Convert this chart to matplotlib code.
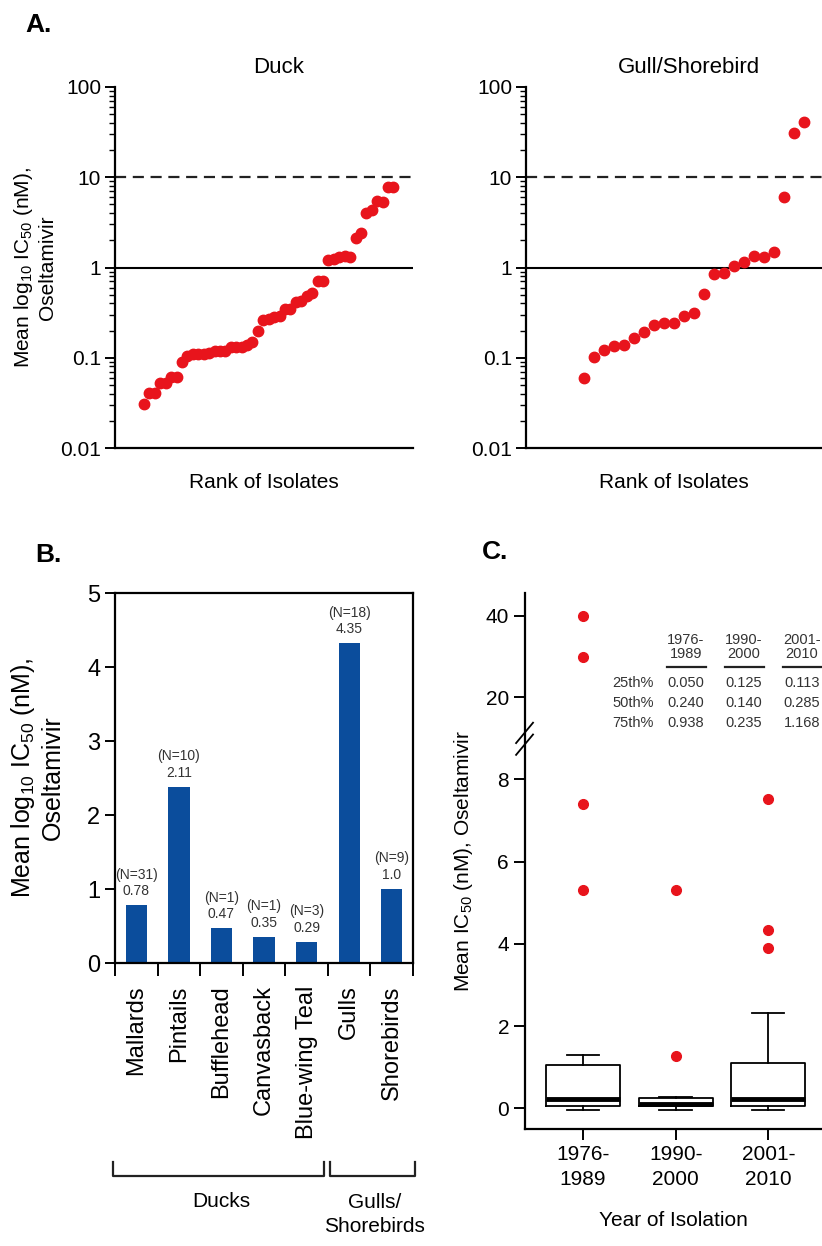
import matplotlib.pyplot as plt
import numpy as np

plt.rcParams['font.family'] = ['Liberation Sans', 'DejaVu Sans']
plt.rcParams['mathtext.fontset'] = 'custom'
plt.rcParams['mathtext.rm'] = 'Liberation Sans'
plt.rcParams['mathtext.it'] = 'Liberation Sans:italic'
plt.rcParams['mathtext.default'] = 'regular'

# ---- panel A: ranked isolates ----
duck_ic50 = [0.031, 0.041, 0.041, 0.053, 0.053, 0.061, 0.061, 0.090, 0.104, 0.11,
             0.11, 0.11, 0.114, 0.12, 0.12, 0.12, 0.13, 0.13, 0.133, 0.14,
             0.15, 0.20, 0.26, 0.27, 0.28, 0.29, 0.35, 0.35, 0.42, 0.43,
             0.48, 0.52, 0.70, 0.70, 1.2, 1.25, 1.3, 1.33, 1.3, 2.1,
             2.4, 4.0, 4.3, 5.4, 5.3, 7.7, 7.7]
gull_ic50 = [0.06, 0.102, 0.122, 0.135, 0.14, 0.167, 0.195, 0.23, 0.24, 0.24,
             0.29, 0.31, 0.51, 0.84, 0.87, 1.03, 1.16, 1.34, 1.30, 1.48,
             6.1, 30.8, 40.5]

# ---- panel B: mean per species ----
species = ['Mallards', 'Pintails', 'Bufflehead', 'Canvasback', 'Blue-wing Teal',
           'Gulls', 'Shorebirds']
bar_heights = [0.78, 2.38, 0.47, 0.35, 0.29, 4.32, 1.0]
n_isolates = [31, 10, 1, 1, 3, 18, 9]
bar_labels = ['0.78', '2.11', '0.47', '0.35', '0.29', '4.35', '1.0']

# ---- panel C: by period ----
periods = ['1976-\n1989', '1990-\n2000', '2001-\n2010']
box_whislo = [-0.04, -0.04, -0.04]
box_q1 = [0.05, 0.05, 0.05]
box_med = [0.24, 0.12, 0.24]
box_q3 = [1.06, 0.26, 1.11]
box_whishi = [1.30, 0.28, 2.33]
outliers = [[40, 30, 7.4, 5.3], [5.3, 1.27], [7.53, 4.33, 3.9]]
pct_labels = ['25th%', '50th%', '75th%']
pct_values = [['0.050', '0.125', '0.113'],
              ['0.240', '0.140', '0.285'],
              ['0.938', '0.235', '1.168']]

red = '#e8141c'
blue = '#0b4d9c'

W, H = 822, 1246
fig = plt.figure(figsize=(W / 100, H / 100), dpi=100)


def box(l, t, r, b):
    # pixel box -> figure fraction
    return [l / W, 1 - b / H, (r - l) / W, (b - t) / H]


def rank_panel(rect, vals, title, xlim, title_x):
    ax = fig.add_axes(rect)
    ranks = np.arange(1, len(vals) + 1)
    ax.plot(ranks, vals, 'o', color=red, ms=7.5, mec=red, zorder=3)
    ax.set_yscale('log')
    ax.set_ylim(0.01, 100)
    ax.set_xlim(*xlim)
    ax.axhline(1, color='black', lw=1.5)
    ax.axhline(10, color='#222222', lw=1.6, ls=(0, (5, 3)))
    ax.set_yticks([0.01, 0.1, 1, 10, 100])
    ax.set_yticklabels(['0.01', '0.1', '1', '10', '100'])
    ax.set_xticks([])
    for s in ['top', 'right']:
        ax.spines[s].set_visible(False)
    for s in ['left', 'bottom']:
        ax.spines[s].set_linewidth(1.6)
    ax.tick_params(axis='y', which='major', length=7, width=1.4, labelsize=15, pad=3)
    ax.tick_params(axis='y', which='minor', length=4, width=1.0)
    ax.set_xlabel('Rank of Isolates', fontsize=15, labelpad=18)
    ax.text(title_x, 1.025, title, transform=ax.transAxes, ha='center', va='bottom',
            fontsize=16)
    return ax


axd = rank_panel(box(115, 87, 413, 448), duck_ic50, 'Duck', (-4.35, 50.6), 0.55)
axd.set_ylabel('Mean log$_{10}$ IC$_{50}$ (nM),\nOseltamivir', fontsize=15,
               labelpad=2)
axg = rank_panel(box(526, 87, 822, 448), gull_ic50, 'Gull/Shorebird', (-4.8, 24.8), 0.55)

# ---- panel B ----
axb = fig.add_axes(box(115, 593, 413, 963))
x = np.arange(len(species))
axb.bar(x, bar_heights, width=0.5, color=blue)
for xi, h, n, lab in zip(x, bar_heights, n_isolates, bar_labels):
    axb.annotate(f'(N={n})\n{lab}', (xi, h), xytext=(0, 5), textcoords='offset points',
                 ha='center', va='bottom', fontsize=10, color='#333333',
                 linespacing=1.25)
axb.set_xlim(-0.5, 6.5)
axb.set_ylim(0, 5)
axb.set_yticks(range(6))
axb.set_xticks(x)
axb.set_xticklabels(species, rotation=90, fontsize=17)
axb.set_xticks(np.arange(-0.5, 7), minor=True)
axb.tick_params(axis='x', which='major', length=0, pad=16)
axb.tick_params(axis='x', which='minor', length=9, width=1.4)
axb.tick_params(axis='y', length=7, width=1.4, labelsize=17)
for s in axb.spines.values():
    s.set_linewidth(1.6)
axb.set_ylabel('Mean log$_{10}$ IC$_{50}$ (nM),\nOseltamivir', fontsize=18, labelpad=16)

tr = axb.get_xaxis_transform()
for x0, x1 in [(-0.54, 4.41), (4.55, 6.55)]:
    axb.plot([x0, x0, x1, x1], [-0.538, -0.576, -0.576, -0.538], color='#222222',
             lw=1.6, transform=tr, clip_on=False)
axb.text(2.0, -0.645, 'Ducks', transform=tr, ha='center', va='center', fontsize=15)
axb.text(5.6, -0.68, 'Gulls/\nShorebirds', transform=tr, ha='center', va='center',
         fontsize=15, linespacing=1.3)

# ---- panel C with broken y axis ----
BREAK, RATIO = 8.9, 0.099


def fwd(y):
    y = np.asarray(y, dtype=float)
    return np.where(y <= BREAK, y, BREAK + (y - BREAK) * RATIO)


def inv(y):
    y = np.asarray(y, dtype=float)
    return np.where(y <= BREAK, y, BREAK + (y - BREAK) / RATIO)


axc = fig.add_axes(box(525, 593, 822, 1129))
axc.set_yscale('function', functions=(fwd, inv))
stats = []
for i in range(len(periods)):
    stats.append(dict(whislo=box_whislo[i], q1=box_q1[i], med=box_med[i],
                      q3=box_q3[i], whishi=box_whishi[i], fliers=outliers[i]))
axc.bxp(stats, positions=[1, 2, 3], widths=0.8, capwidths=0.35,
        boxprops=dict(color='black', lw=1.3),
        whiskerprops=dict(color='black', lw=1.3),
        capprops=dict(color='black', lw=1.3),
        medianprops=dict(color='black', lw=3.5),
        flierprops=dict(marker='o', mfc=red, mec=red, ms=7),
        manage_ticks=False)
axc.set_xlim(0.373, 3.58)
axc.set_ylim(-0.5, 45.6)
axc.set_yticks([0, 2, 4, 6, 8, 20, 40])
axc.set_yticklabels(['0', '2', '4', '6', '8', '20', '40'])
axc.yaxis.set_minor_locator(plt.NullLocator())
axc.set_xticks([1, 2, 3])
axc.set_xticklabels(periods, fontsize=15, linespacing=1.4)
axc.tick_params(axis='both', length=8, width=1.4, labelsize=15)
for s in ['top', 'right']:
    axc.spines[s].set_visible(False)
for s in ['left', 'bottom']:
    axc.spines[s].set_linewidth(1.6)
axc.set_xlabel('Year of Isolation', fontsize=15, labelpad=16)
axc.set_ylabel('Mean IC$_{50}$ (nM), Oseltamivir', fontsize=15, labelpad=8)
# break marks
for y0 in (0.698, 0.720):
    axc.plot([-0.03, 0.027], [y0, y0 + 0.038], color='black', lw=1.3,
             transform=axc.transAxes, clip_on=False)

# inset table of percentiles
col_x = [686, 744, 802]
for cx, per in zip(col_x, periods):
    fig.text(cx / W, 1 - 647 / H, per, ha='center', va='center', fontsize=10.5,
             color='#333333', linespacing=1.05)
    fig.add_artist(plt.Line2D([(cx - 19) / W, (cx + 20) / W], [1 - 667 / H] * 2,
                              color='#222222', lw=1.6))
row_y = [683, 703, 723]
for ry, lab, vals in zip(row_y, pct_labels, pct_values):
    fig.text(633 / W, 1 - ry / H, lab, ha='center', va='center', fontsize=10.5,
             color='#333333')
    for cx, v in zip(col_x, vals):
        fig.text(cx / W, 1 - ry / H, v, ha='center', va='center', fontsize=10.5,
                 color='#333333')

# panel letters
fig.text(25 / W, 1 - 25 / H, 'A.', fontsize=19, fontweight='bold', va='center')
fig.text(35 / W, 1 - 555 / H, 'B.', fontsize=19, fontweight='bold', va='center')
fig.text(482 / W, 1 - 552 / H, 'C.', fontsize=19, fontweight='bold', va='center')

fig.savefig('out.png', dpi=100)
